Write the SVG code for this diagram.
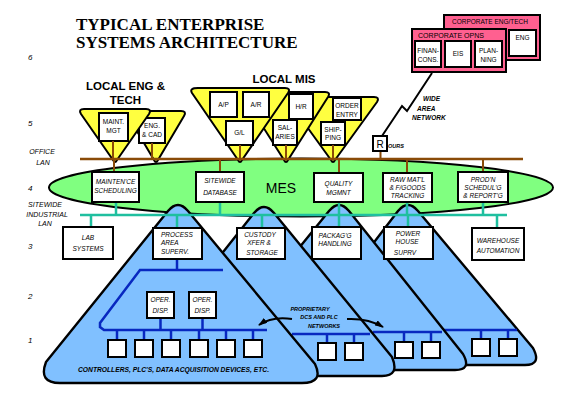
<svg xmlns="http://www.w3.org/2000/svg" width="567" height="404" viewBox="0 0 567 404">
<defs>
<style>
.bx{fill:#fff;stroke:#000;stroke-width:2}
.t{font-family:"Liberation Sans",Arial,sans-serif;font-size:6.5px;text-anchor:middle;fill:#000}
.i{font-style:italic}
.b{font-weight:bold}
.yel{fill:#ffff40;stroke:#000;stroke-width:2;stroke-linejoin:round}
.mtn{fill:#80c0ff;stroke:#000;stroke-width:2.4;stroke-linejoin:round}
.pk{fill:#ff6090;stroke:#000;stroke-width:2}
.br{stroke:#8a4b08;stroke-width:2;fill:none}
.tl{stroke:#1fbf9f;stroke-width:2.5;fill:none}
.nt{stroke:#0828c0;stroke-width:2.5;fill:none}
.lvl{font-family:"Liberation Sans",Arial,sans-serif;font-size:8px;font-style:italic;fill:#000}
.lan{font-family:"Liberation Sans",Arial,sans-serif;font-size:7px;font-style:italic;fill:#000;text-anchor:middle}
.hd{font-family:"Liberation Sans",Arial,sans-serif;font-size:11.5px;font-weight:bold;text-anchor:middle;fill:#000}
.sm{font-size:5.5px}
</style>
<marker id="ah" markerWidth="9" markerHeight="6" refX="8" refY="3" orient="auto" markerUnits="userSpaceOnUse"><path d="M0 0 L9 3 L0 6 Z" fill="#000"/></marker>
</defs>
<rect width="567" height="404" fill="#fff"/>

<g id="title" font-family="Liberation Serif, serif" font-weight="bold" font-size="17">
<text x="76" y="30">TYPICAL ENTERPRISE</text>
<text x="76" y="48">SYSTEMS ARCHITECTURE</text>
</g>

<g id="levels">
<text class="lvl" x="28" y="60">6</text>
<text class="lvl" x="28" y="126">5</text>
<text class="lvl" x="28" y="191">4</text>
<text class="lvl" x="28" y="249">3</text>
<text class="lvl" x="28" y="299">2</text>
<text class="lvl" x="28" y="343">1</text>
<text class="lan" x="42" y="154">OFFICE</text>
<text class="lan" x="43" y="165">LAN</text>
<text class="lan" x="45" y="207">SITEWIDE</text>
<text class="lan" x="47" y="217">INDUSTRIAL</text>
<text class="lan" x="45" y="226">LAN</text>
</g>

<g id="corp-engtech">
<rect class="pk" x="444" y="15" width="96" height="45"/>
<text class="t" x="490" y="24" textLength="76" lengthAdjust="spacingAndGlyphs">CORPORATE ENG/TECH</text>
<rect class="bx" x="509" y="30" width="27" height="26"/>
<text class="t" x="522.5" y="40">ENG</text>
</g>

<g id="corp-opns">
<rect class="pk" x="412" y="29" width="94" height="43"/>
<text class="t" x="451" y="38" textLength="66" lengthAdjust="spacingAndGlyphs">CORPORATE OPNS</text>
<rect class="bx" x="415" y="41" width="26" height="26"/>
<text class="t" x="428" y="53">FINAN-</text>
<text class="t" x="428" y="62">CONS.</text>
<rect class="bx" x="445" y="41" width="26" height="26"/>
<text class="t" x="458" y="56">EIS</text>
<rect class="bx" x="475" y="41" width="27" height="26"/>
<text class="t" x="488.5" y="53">PLAN-</text>
<text class="t" x="488.5" y="62">NING</text>
</g>

<g id="wan-label">
<text class="t i b" x="423" y="101" style="text-anchor:start">WIDE</text>
<text class="t i b" x="417" y="111" style="text-anchor:start">AREA</text>
<text class="t i b" x="412" y="120" style="text-anchor:start">NETWORK</text>
</g>

<g id="mes">
<ellipse cx="301" cy="187.5" rx="252" ry="29" fill="#80ff80" stroke="#000" stroke-width="2"/>
<text x="281" y="193" font-family="Liberation Sans, Arial, sans-serif" font-size="14" text-anchor="middle">MES</text>
</g>

<g id="area-power-house">
<path class="mtn" d="M398 211 Q408 199 418 211 L533 348 Q542 365 525 365 L280 365 Z"/>
<path class="nt" d="M443 330 L517 330 M481 330 L481 339 M508 330 L508 339"/>
<rect class="bx" x="472" y="339" width="18" height="17"/>
<rect class="bx" x="499" y="339" width="18" height="17"/>
</g>
<g id="area-packaging">
<path class="mtn" d="M329 211 Q339 199 349 211 L463 354 Q472 370 455 370 L200 370 Z"/>
<path class="nt" d="M373 332 L442 332 M404 332 L404 342 M431 332 L431 342"/>
<rect class="bx" x="395" y="342" width="18" height="16"/>
<rect class="bx" x="422" y="342" width="18" height="16"/>
</g>
<g id="area-custody">
<path class="mtn" d="M254 213 Q264 201 274 213 L392 357 Q400 376 382 376 L125 376 Z"/>
<path class="nt" d="M292 334 L370 334 M327 334 L327 343 M354 334 L354 343"/>
<rect class="bx" x="318" y="343" width="18" height="17"/>
<rect class="bx" x="345" y="343" width="18" height="17"/>
</g>
<g id="area-process">
<path class="mtn" d="M168 211 Q178 199 188 211 L315 364 Q324 383 302 383 L60 383 Q38 383 46 362 Z"/>
<path class="nt" d="M177 259 L177 270 M223 270 L140 270 L100 323 L100 327 L104 330 L267 330 M160.5 318 L160.5 330 M202.5 318 L202.5 330 M117 330 L117 340 M144 330 L144 340 M171 330 L171 340 M199 330 L199 340 M226 330 L226 340 M253 330 L253 340"/>
<g id="oper-disp-1"><rect class="bx" x="147" y="292" width="27" height="26"/>
<text class="t i" x="160.5" y="302">OPER.</text><text class="t i" x="160.5" y="313">DISP.</text></g>
<g id="oper-disp-2"><rect class="bx" x="189" y="292" width="27" height="26"/>
<text class="t i" x="202.5" y="302">OPER.</text><text class="t i" x="202.5" y="313">DISP.</text></g>
<rect class="bx" x="108" y="340" width="18" height="17"/>
<rect class="bx" x="135" y="340" width="18" height="17"/>
<rect class="bx" x="162" y="340" width="18" height="17"/>
<rect class="bx" x="190" y="340" width="18" height="17"/>
<rect class="bx" x="217" y="340" width="18" height="17"/>
<rect class="bx" x="244" y="340" width="18" height="17"/>
<text class="t i b" x="173.5" y="372" textLength="191" lengthAdjust="spacingAndGlyphs">CONTROLLERS, PLC'S, DATA ACQUISITION DEVICES, ETC.</text>
</g>

<g id="proprietary">
<text class="t i b sm" x="310" y="311">PROPRIETARY</text>
<text class="t i b sm" x="319" y="319">DCS AND PLC</text>
<text class="t i b sm" x="324" y="328">NETWORKS</text>
<path d="M292 319 Q272 316 259 325" fill="none" stroke="#000" stroke-width="2" marker-end="url(#ah)"/>
<path d="M347 319 Q368 318 383 327" fill="none" stroke="#000" stroke-width="2" marker-end="url(#ah)"/>
</g>

<g id="local-eng-tech">
<text class="hd" x="125.5" y="90">LOCAL ENG &amp;</text>
<text class="hd" x="125.5" y="104">TECH</text>
<g id="eng-cad">
<path class="yel" d="M131 111 L181 111 Q187 111 184 116 L158 160 Q156 164 154 160 L128 116 Q125 111 131 111 Z"/>
<rect class="bx" x="139" y="118" width="26" height="25"/>
<text class="t" x="152" y="128">ENG.</text>
<text class="t" x="152" y="137">&amp; CAD</text>
</g>
<g id="maint-mgt">
<path class="yel" d="M84 109 L146 109 Q152 109 149 114 L117 160 Q115 164 113 160 L81 114 Q78 109 84 109 Z"/>
<rect class="bx" x="99" y="113" width="29" height="28"/>
<text class="t" x="113.5" y="124">MAINT.</text>
<text class="t" x="113.5" y="133">MGT</text>
</g>
</g>

<g id="local-mis">
<text class="hd" x="284" y="83">LOCAL MIS</text>
<g id="mis-c">
<path class="yel" d="M292 97 L374 97 Q380 97 377 102 L335 160 Q333 164 331 160 L289 102 Q286 97 292 97 Z"/>
<rect class="bx" x="333" y="98" width="28" height="22"/>
<text class="t" x="347" y="108">ORDER</text>
<text class="t" x="347" y="116.5">ENTRY</text>
<rect class="bx" x="321" y="122" width="24" height="23"/>
<text class="t" x="333" y="131.5">SHIP-</text>
<text class="t" x="333" y="140">PING</text>
</g>
<g id="mis-b">
<path class="yel" d="M247 92 L325 92 Q331 92 328 97 L288 160 Q286 164 284 160 L244 97 Q241 92 247 92 Z"/>
<rect class="bx" x="289" y="94" width="24" height="25"/>
<text class="t" x="301" y="109">H/R</text>
<rect class="bx" x="273" y="120" width="24" height="25"/>
<text class="t" x="285" y="130">SAL-</text>
<text class="t" x="285" y="139">ARIES</text>
</g>
<g id="mis-a">
<path class="yel" d="M198 88 L285 88 Q291 88 288 93 L242 160 Q240 164 238 160 L192 93 Q189 88 198 88 Z"/>
<rect class="bx" x="210" y="92" width="27" height="25"/>
<text class="t" x="223.5" y="107">A/P</text>
<rect class="bx" x="243" y="92" width="26" height="25"/>
<text class="t" x="256" y="107">A/R</text>
<rect class="bx" x="226" y="121" width="27" height="24"/>
<text class="t" x="239.5" y="135">G/L</text>
</g>
</g>

<g id="connectors">
<path d="M382 136 L402 106 L407 111 L432 73" fill="none" stroke="#000" stroke-width="2"/>
<path class="br" d="M113 141 V159 M152 143 V159 M240 145 V159 M286 145 V159 M333 145 V159 M380.5 151 V159"/>
<line x1="80" y1="159" x2="523" y2="159" stroke="#8a4b08" stroke-width="2.5"/>
<path class="br" d="M114 159 V172 M220 159 V172 M339 159 V173 M407 159 V173 M483 159 V172"/>
<path class="tl" d="M116 202 V215 M220 202 V215 M339 202 V215 M407 202 V215 M483 202 V215"/>
<line x1="80" y1="215" x2="507" y2="215" stroke="#1fbf9f" stroke-width="2.5"/>
<path class="tl" d="M91 215 V227 M177 215 V228 M262 215 V228 M339 215 V227 M408 215 V227 M497 215 V228"/>
</g>

<g id="router">
<rect class="bx" x="373" y="136" width="14" height="15"/>
<text x="380" y="148" font-family="Liberation Sans, Arial, sans-serif" font-size="10" text-anchor="middle">R</text>
<text class="t i b sm" x="388" y="147.5" style="text-anchor:start">OURS</text>
</g>

<g id="maint-sched"><rect class="bx" x="92" y="172" width="47" height="30"/>
<text class="t i" x="115.5" y="184">MAINTEN'CE</text><text class="t i" x="115.5" y="193">SCHEDULING</text></g>
<g id="sitewide-db"><rect class="bx" x="196" y="172" width="48" height="30"/>
<text class="t i" x="220" y="183">SITEWIDE</text><text class="t i" x="220" y="195">DATABASE</text></g>
<g id="quality"><rect class="bx" x="314" y="173" width="49" height="29"/>
<text class="t i" x="338.5" y="186">QUALITY</text><text class="t i" x="338.5" y="195">MGMNT</text></g>
<g id="rawmatl"><rect class="bx" x="383" y="173" width="49" height="29"/>
<text class="t i" x="407.5" y="182">RAW MAT'L</text><text class="t i" x="407.5" y="190">&amp; F/GOODS</text><text class="t i" x="407.5" y="198">TRACKING</text></g>
<g id="prodn"><rect class="bx" x="458" y="172" width="50" height="30"/>
<text class="t i" x="483" y="182">PROD'N</text><text class="t i" x="483" y="190">SCHEDUL'G</text><text class="t i" x="483" y="198">&amp; REPORT'G</text></g>

<g id="lab"><rect class="bx" x="63" y="227" width="50" height="32"/>
<text class="t i" x="88" y="240">LAB</text><text class="t i" x="88" y="251">SYSTEMS</text></g>
<g id="process"><rect class="bx" x="153" y="228" width="49" height="31"/>
<text class="t i" x="161" y="237" style="text-anchor:start">PROCESS</text><text class="t i" x="161" y="245" style="text-anchor:start">AREA</text><text class="t i" x="161" y="254" style="text-anchor:start">SUPERV.</text></g>
<g id="custody"><rect class="bx" x="237" y="228" width="48" height="31"/>
<text class="t i" x="260" y="237">CUSTODY</text><text class="t i" x="259" y="245">XFER &amp;</text><text class="t i" x="262" y="255">STORAGE</text></g>
<g id="packaging"><rect class="bx" x="312" y="227" width="49" height="32"/>
<text class="t i" x="335" y="238">PACKAG'G</text><text class="t i" x="335" y="246">HANDLING</text></g>
<g id="powerhouse"><rect class="bx" x="384" y="227" width="49" height="32"/>
<text class="t i" x="408" y="236">POWER</text><text class="t i" x="407" y="244">HOUSE</text><text class="t i" x="405" y="255">SUPRV</text></g>
<g id="warehouse"><rect class="bx" x="472" y="228" width="52" height="32"/>
<text class="t i" x="498" y="243">WAREHOUSE</text><text class="t i" x="498" y="253">AUTOMATION</text></g>
</svg>
